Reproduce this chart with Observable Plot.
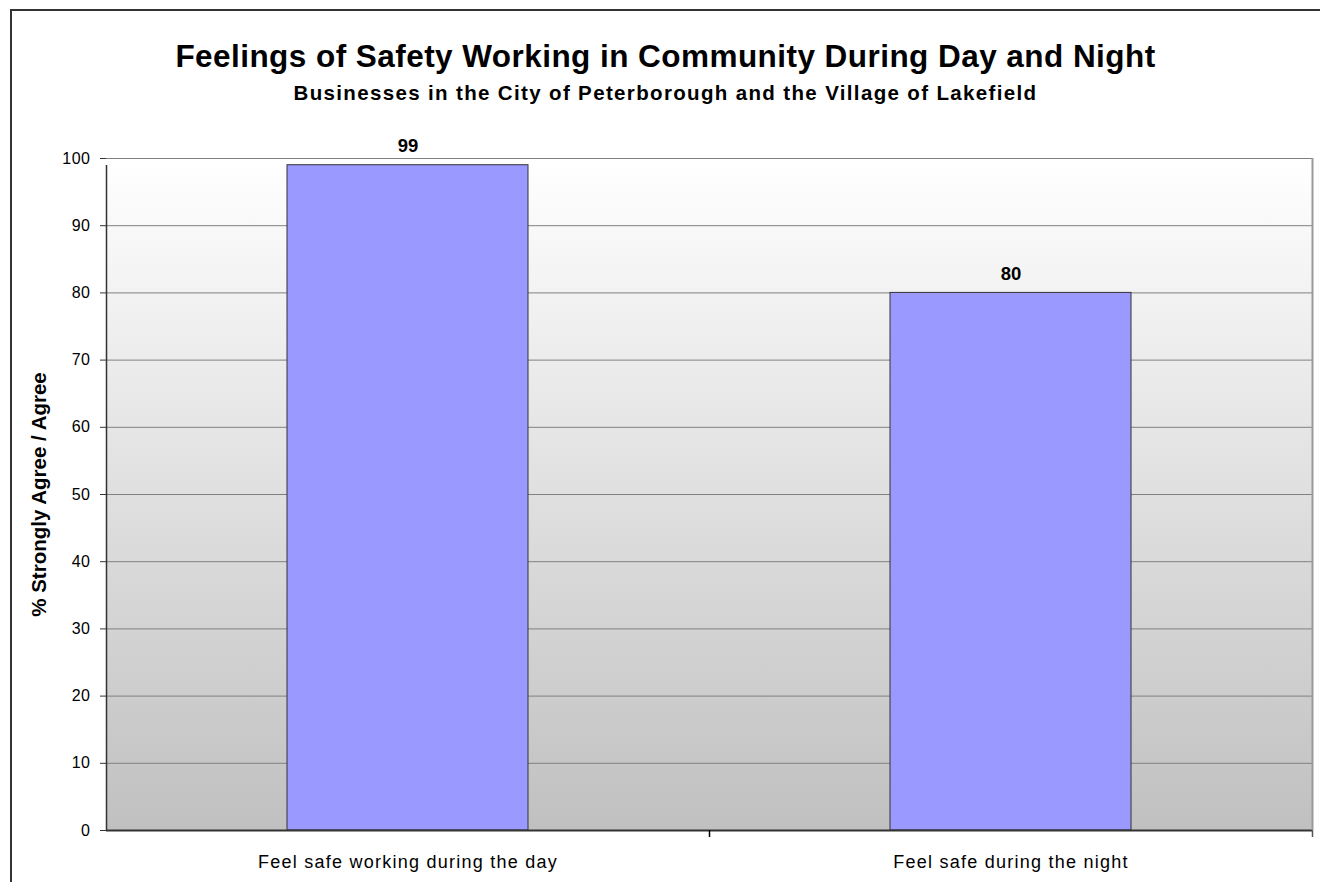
<!DOCTYPE html>
<html>
<head>
<meta charset="utf-8">
<script src="https://cdn.jsdelivr.net/npm/d3@7"></script>
<script src="https://cdn.jsdelivr.net/npm/@observablehq/plot@0.6"></script>
<style>
  html, body { margin: 0; padding: 0; background: #fff; overflow: hidden; }
  body { font-family: "Liberation Sans", Arial, sans-serif; }
  #wrap { position: relative; width: 1320px; height: 882px; overflow: hidden; }
  #border { position: absolute; left: 10px; top: 9px; width: 1400px; height: 1000px; border: 2px solid #333; box-sizing: border-box; }
  #head { position: relative; height: 120px; text-align: center; color: #000; }
  #title { position: absolute; left: 0; width: 1331px; top: 38px; font-size: 31.5px; letter-spacing: 0.45px; font-weight: bold; line-height: 36px; white-space: nowrap; }
  #subtitle { position: absolute; left: 0; width: 1331px; top: 81px; font-size: 20.5px; letter-spacing: 1.35px; font-weight: bold; line-height: 24px; white-space: nowrap; }
  #chart { position: relative; }
</style>
</head>
<body>
<div id="wrap">
  <div id="border"></div>
  <div id="head">
    <div id="title">Feelings of Safety Working in Community During Day and Night</div>
    <div id="subtitle">Businesses in the City of Peterborough and the Village of Lakefield</div>
  </div>
  <div id="chart"></div>
</div>
<script>
const categories = ["Feel safe working during the day", "Feel safe during the night"];
const values = [99, 80];
const yTicks = [0, 10, 20, 30, 40, 50, 60, 70, 80, 90, 100];
const yLabel = "% Strongly Agree / Agree";

const data = categories.map((c, i) => ({category: c, value: values[i]}));

const W = 1320, H = 762, mL = 106, mR = 8, mT = 38, mB = 52;
const step = (W - mL - mR) / categories.length;

const plot = Plot.plot({
  width: W,
  height: H,
  marginLeft: mL,
  marginRight: mR,
  marginTop: mT,
  marginBottom: mB,
  style: {fontFamily: '"Liberation Sans", Arial, sans-serif', background: "transparent", color: "#000", overflow: "visible"},
  x: {domain: categories, paddingInner: 0.6, paddingOuter: 0.3, label: null},
  y: {domain: [0, 100], label: null},
  marks: [
    Plot.frame({fill: "url(#bggrad)", stroke: "none"}),
    Plot.gridY(yTicks, {stroke: "#808080", strokeOpacity: 1, strokeWidth: 1}),
    Plot.barY(data, {x: "category", y: "value", fill: "#9999ff", stroke: "#333", strokeWidth: 1}),
    Plot.text(data, {x: "category", y: "value", text: d => String(d.value), dy: -13, lineAnchor: "bottom", fontWeight: "bold", fontSize: 18.5, fill: "#000", ariaLabel: "value-label"}),
    Plot.ruleY([0], {stroke: "#333", strokeWidth: 2}),
    Plot.ruleX([categories[0]], {y1: 0, y2: 100, dx: -step / 2, insetBottom: -7, stroke: "#333", strokeWidth: 1.5}),
    Plot.ruleX([categories[1]], {y1: 0, y2: 100, dx: step / 2, stroke: "#999", strokeWidth: 2}),
    Plot.ruleX([categories[1]], {y1: 0, y2: 0, dx: step / 2, insetBottom: -7, stroke: "#555", strokeWidth: 1.5}),
    Plot.ruleX([categories[1]], {y1: 0, y2: 0, dx: -step / 2, insetBottom: -7, stroke: "#000", strokeWidth: 1.5}),
    Plot.axisY(yTicks, {tickSize: 6, tickPadding: 10, fontSize: 16, stroke: "#333", fill: "#000", label: null}),
    Plot.axisX({tickSize: 0, tickPadding: 25, fontSize: 18, fill: "#000", label: null}),
    Plot.text([yLabel], {frameAnchor: "left", rotate: -90, dx: -67, fontWeight: "bold", fontSize: 20.5, fill: "#000", textAnchor: "middle", lineAnchor: "middle", ariaLabel: "y-title"})
  ]
});

const svg = d3.select(plot);
const defs = svg.insert("defs", ":first-child");
const grad = defs.append("linearGradient").attr("id", "bggrad").attr("x1", 0).attr("y1", 0).attr("x2", 0).attr("y2", 1);
grad.append("stop").attr("offset", "0%").attr("stop-color", "#ffffff");
grad.append("stop").attr("offset", "100%").attr("stop-color", "#c0c0c0");

svg.selectAll('g[aria-label="x-axis tick label"] text').style("letter-spacing", "1.25px");
svg.selectAll('g[aria-label="y-axis tick label"] text').style("letter-spacing", "0.5px");
svg.selectAll('g[aria-label="value-label"] text').style("letter-spacing", "0.5px");
svg.selectAll('g[aria-label="y-title"] text').style("letter-spacing", "0.45px");

document.getElementById("chart").appendChild(plot);
</script>
</body>
</html>
